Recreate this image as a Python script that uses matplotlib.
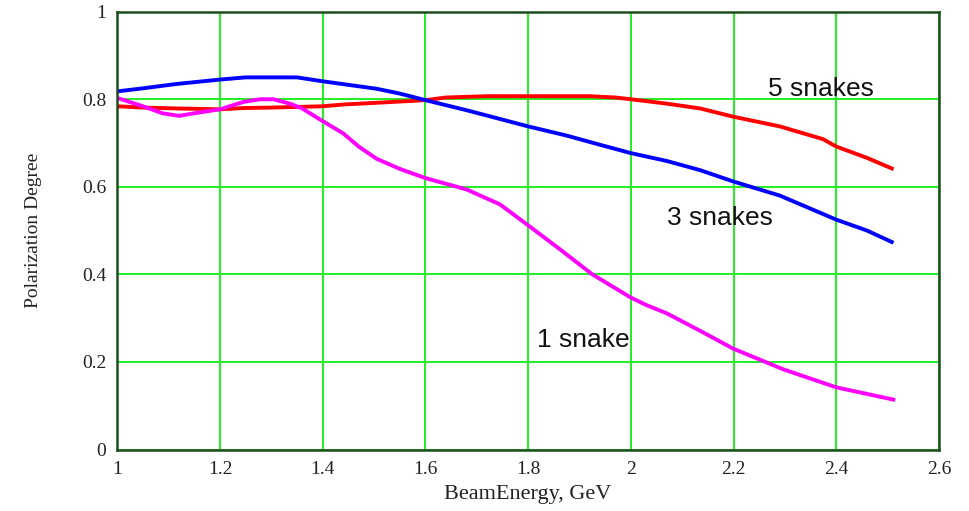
import matplotlib
matplotlib.use("Agg")
import matplotlib.pyplot as plt

# ---- data ----
x_5 = [1.0, 1.05, 1.116, 1.2, 1.246, 1.3, 1.4, 1.44, 1.505, 1.57, 1.6, 1.64, 1.72,
       1.8, 1.92, 1.97, 2.0, 2.07, 2.135, 2.2, 2.29, 2.374, 2.4, 2.46, 2.508]
y_5 = [0.784, 0.781, 0.779, 0.777, 0.780, 0.781, 0.784, 0.788, 0.792, 0.796, 0.798, 0.804, 0.807,
       0.807, 0.807, 0.804, 0.800, 0.790, 0.779, 0.760, 0.738, 0.709, 0.692, 0.666, 0.642]

x_3 = [1.0, 1.05, 1.116, 1.2, 1.25, 1.35, 1.4, 1.505, 1.55, 1.6, 1.68, 1.745, 1.8,
       1.875, 1.94, 2.0, 2.07, 2.135, 2.2, 2.29, 2.4, 2.46, 2.508]
y_3 = [0.818, 0.825, 0.835, 0.845, 0.850, 0.850, 0.841, 0.824, 0.813, 0.798, 0.775, 0.755, 0.738,
       0.717, 0.696, 0.677, 0.659, 0.638, 0.612, 0.580, 0.525, 0.500, 0.474]

x_1 = [1.0, 1.05, 1.088, 1.12, 1.15, 1.2, 1.246, 1.278, 1.304, 1.336, 1.36, 1.4, 1.44,
       1.47, 1.505, 1.55, 1.6, 1.64, 1.68, 1.745, 1.8, 1.86, 1.925, 2.0, 2.03, 2.07, 2.135, 2.2,
       2.297, 2.4, 2.511]
y_1 = [0.803, 0.784, 0.768, 0.762, 0.768, 0.777, 0.794, 0.800, 0.800, 0.790, 0.779, 0.750, 0.722,
       0.692, 0.664, 0.641, 0.620, 0.607, 0.594, 0.560, 0.512, 0.459, 0.400, 0.347, 0.330, 0.311, 0.271, 0.230,
       0.183, 0.142, 0.114]

x_ticks = [1, 1.2, 1.4, 1.6, 1.8, 2, 2.2, 2.4, 2.6]
x_tick_labels = ["1", "1.2", "1.4", "1.6", "1.8", "2", "2.2", "2.4", "2.6"]
y_ticks = [0, 0.2, 0.4, 0.6, 0.8, 1]
y_tick_labels = ["0", "0.2", "0.4", "0.6", "0.8", "1"]

labels = ["5 snakes", "3 snakes", "1 snake"]
label_pos = [(2.267, 0.807), (2.07, 0.513), (1.817, 0.234)]

# ---- figure ----
W, H = 969, 511
fig = plt.figure(figsize=(W / 100, H / 100), dpi=100)
left, right, top, bottom = 117.3, 939.0, 11.7, 449.5
ax = fig.add_axes([left / W, (H - bottom) / H, (right - left) / W, (bottom - top) / H])

ax.set_xlim(1, 2.6)
ax.set_ylim(0, 1)
ax.set_xticks(x_ticks)
ax.set_xticklabels(x_tick_labels)
ax.set_yticks(y_ticks)
ax.set_yticklabels(y_tick_labels)

ax.grid(True, color="#22ee22", linewidth=1.4)
ax.set_axisbelow(True)
ax.tick_params(length=0, pad=8)
for lab in ax.get_xticklabels() + ax.get_yticklabels():
    lab.set_fontfamily("Liberation Serif")
    lab.set_fontsize(14)
    lab.set_color("#222222")
for sp in ax.spines.values():
    sp.set_color("#1f4d1f")
    sp.set_linewidth(1.8)
    sp.set_zorder(5)

lw = 2.8
ax.plot(x_5, y_5, color="#ff0000", linewidth=lw, zorder=3, solid_joinstyle="round")
ax.plot(x_3, y_3, color="#0000ff", linewidth=lw, zorder=3, solid_joinstyle="round")
ax.plot(x_1, y_1, color="#ff00ff", linewidth=lw, zorder=3, solid_joinstyle="round")

for txt, (tx, ty) in zip(labels, label_pos):
    ax.text(tx, ty, txt, fontsize=19, family="Liberation Sans", color="#111111",
            ha="left", va="baseline", zorder=4)

ax.set_xlabel("BeamEnergy, GeV", family="Liberation Serif", fontsize=16, color="#222222", labelpad=5)
ax.set_ylabel("Polarization Degree", family="Liberation Serif", fontsize=14, color="#222222", labelpad=29)

fig.savefig("out.png", dpi=100)
